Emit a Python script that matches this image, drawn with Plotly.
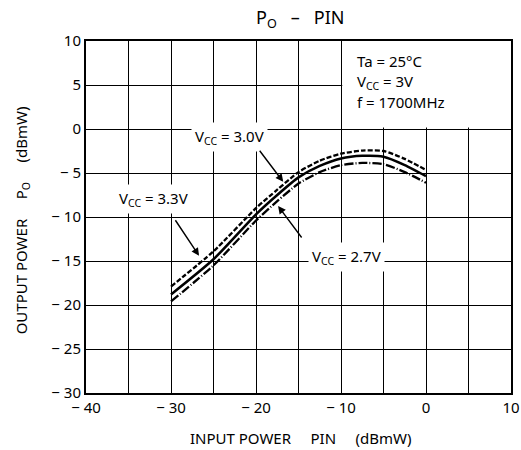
import plotly.graph_objects as go

# Data
pin = [-30, -25, -20, -17.5, -15, -12.5, -10, -7.5, -5, -2.5, 0]
po_33 = [-17.9, -13.9, -9.0, -6.9, -4.9, -3.6, -2.8, -2.45, -2.5, -3.4, -4.65]
po_30 = [-18.8, -14.8, -9.7, -7.5, -5.5, -4.2, -3.35, -3.05, -3.15, -4.1, -5.35]
po_27 = [-19.6, -15.5, -10.4, -8.2, -6.2, -4.9, -4.1, -3.85, -4.0, -4.9, -6.1]

x_ticks = [-40, -35, -30, -25, -20, -15, -10, -5, 0, 5, 10]
x_ticktext = ["\u2212 40", "", "\u2212 30", "", "\u2212 20", "", "\u2212 10", "", "0", "", "10"]
y_ticks = [10, 5, 0, -5, -10, -15, -20, -25, -30]
y_ticktext = ["10", "5", "0", "\u2212 5", "\u2212 10", "\u2212 15", "\u2212 20", "\u2212 25", "\u2212 30"]

FONT = "Noto Sans"
NB = "\u00a0"
FS = 15

fig = go.Figure()
fig.add_trace(go.Scatter(x=pin, y=po_33, mode="lines", name="3.3V",
                         line=dict(color="black", width=2.3, dash="5px,2px", shape="spline", smoothing=0.6)))
fig.add_trace(go.Scatter(x=pin, y=po_30, mode="lines", name="3.0V",
                         line=dict(color="black", width=2.5, shape="spline", smoothing=0.6)))
fig.add_trace(go.Scatter(x=pin, y=po_27, mode="lines", name="2.7V",
                         line=dict(color="black", width=2.3, dash="9px,2px,1px,2px", shape="spline", smoothing=0.6)))

# blank box in top-right (no grid)
fig.add_shape(type="rect", xref="x", yref="y", x0=-9.85, x1=10, y0=0.17, y1=10,
              fillcolor="white", line=dict(width=0), layer="between")

annos = []
def lab(x, y, t):
    annos.append(dict(x=x, y=y, xref="x", yref="y", text=t, showarrow=False,
                      bgcolor="white", borderpad=3, font=dict(size=FS, family=FONT, color="black")))
lab(-23.1, -0.9, "V<sub>CC</sub> = 3.0V")
lab(-32.1, -7.9, "V<sub>CC</sub> = 3.3V")
lab(-9.3, -14.6, "V<sub>CC</sub> = 2.7V")

def arr(x0, y0, x1, y1):
    annos.append(dict(x=x1, y=y1, ax=x0, ay=y0, xref="x", yref="y", axref="x", ayref="y",
                      text="", showarrow=True, arrowhead=2, arrowsize=1.1, arrowwidth=1.4,
                      arrowcolor="black"))
arr(-29.6, -10.2, -26.7, -14.4)
arr(-19.7, -2.3, -16.8, -6.0)
arr(-14.5, -12.5, -17.4, -8.75)

for i, t in enumerate(["Ta = 25\u00b0C", "V<sub>CC</sub> = 3V", "f = 1700MHz"]):
    annos.append(dict(x=-8.4, y=[7.7, 5.35, 3.1][i], xref="x", yref="y", xanchor="left", yanchor="middle",
                      text=t, showarrow=False, font=dict(size=FS, family=FONT, color="black")))

# titles (paper coords relative to plot area)
annos.append(dict(x=0.505, y=1.065, xref="paper", yref="paper", xanchor="center", yanchor="middle",
                  showarrow=False, text="P<sub>O</sub>" + NB * 3 + "\u2013" + NB * 3 + "PIN",
                  font=dict(size=18, family=FONT, color="black")))
annos.append(dict(x=0.505, y=-0.128, xref="paper", yref="paper", xanchor="center", yanchor="middle",
                  showarrow=False, text="INPUT POWER" + NB * 5 + "PIN" + NB * 5 + "(dBmW)",
                  font=dict(size=FS, family=FONT, color="black")))
annos.append(dict(x=-0.151, y=0.49, xref="paper", yref="paper", xanchor="center", yanchor="middle",
                  showarrow=False, textangle=-90,
                  text="OUTPUT POWER" + NB * 5 + "P<sub>O</sub>" + NB * 5 + "(dBmW)",
                  font=dict(size=FS, family=FONT, color="black")))

fig.update_layout(
    width=521, height=450,
    margin=dict(l=86, r=10, t=41, b=57),
    paper_bgcolor="white", plot_bgcolor="white",
    showlegend=False,
    font=dict(family=FONT, size=FS, color="black"),
    annotations=annos,
    xaxis=dict(range=[-40, 10], tickvals=x_ticks, ticktext=x_ticktext, automargin=False,
               showgrid=True, gridcolor="black", gridwidth=1.3,
               showline=True, linecolor="black", linewidth=2, mirror=True,
               zeroline=False, ticks="", tickfont=dict(size=FS)),
    yaxis=dict(range=[-30, 10], tickvals=y_ticks, ticktext=y_ticktext, automargin=False,
               showgrid=True, gridcolor="black", gridwidth=1.3,
               showline=True, linecolor="black", linewidth=2, mirror=True,
               zeroline=False, ticks="", tickfont=dict(size=FS)),
)

fig.write_html("out.html", config={"displayModeBar": False},
               post_script="document.body.style.margin='0';document.body.style.overflow='hidden';")
